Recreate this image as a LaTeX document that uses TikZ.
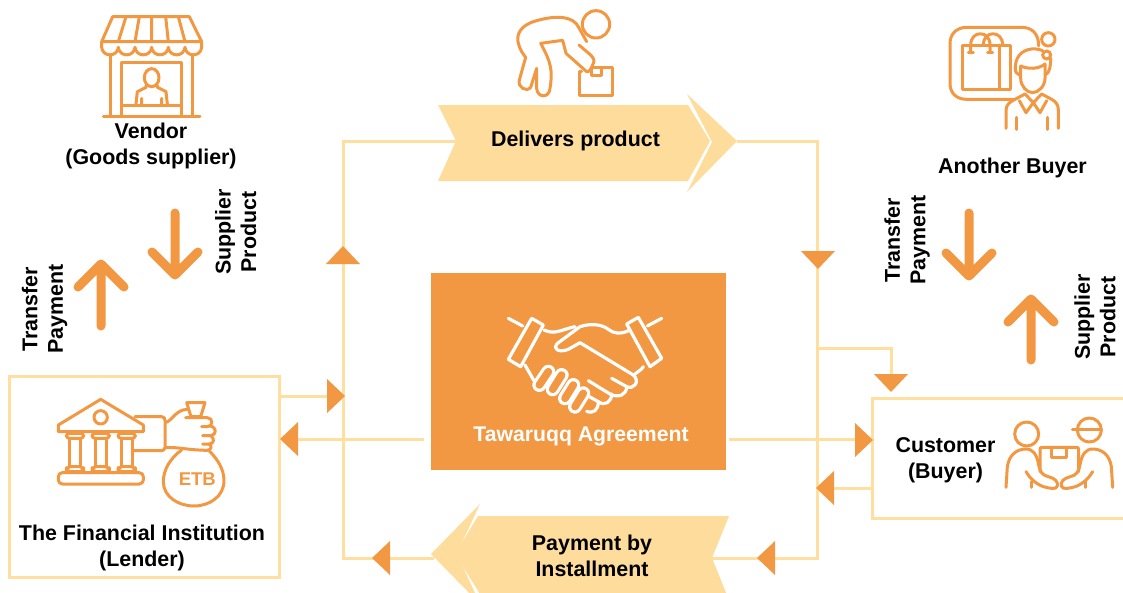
\documentclass[tikz,border=0pt]{standalone}
\usepackage{fontspec}
\setmainfont{Liberation Sans}
\definecolor{lightor}{HTML}{FFDF9F}
\definecolor{midor}{HTML}{FEDD9C}
\definecolor{mainor}{HTML}{F39842}
\tikzset{
  conn/.style={draw=lightor,line width=3pt,line join=miter},
  lbl/.style={font=\bfseries\fontsize{21.4}{25.5}\selectfont,text=black,align=center,inner sep=0pt},
  rlbl/.style={lbl,rotate=90},
  bigarrow/.style={draw=mainor,line width=9pt,line cap=round,line join=round},
  ico/.style={draw=mainor,line width=3pt,line cap=round,line join=round,fill=none},
  wico/.style={draw=white,line width=3.2pt,line cap=round,line join=round,fill=none},
  fingerout/.style={draw=white,line width=14pt,line cap=round},
  fingerin/.style={draw=mainor,line width=7.6pt,line cap=round},
  chev/.style={fill=midor,draw=none},
  zoomed/.style={x=0.33333pt,y=-0.33333pt},
}
\newcommand{\tri}[3]{\fill[mainor,shift={(#1pt,-#2pt)},rotate=#3] (18pt,0pt) -- (0pt,17pt) -- (0pt,-17pt) -- cycle;}
\begin{document}
\begin{tikzpicture}[x=1pt,y=-1pt]
\useasboundingbox (0,0) rectangle (1123,592);
\fill[white] (0,0) rectangle (1123,592);

% boxes
\node[draw=lightor,line width=3pt,minimum width=270pt,minimum height=201pt,inner sep=0pt,outer sep=0pt] (lender) at (144.5,476.5) {};
\node[fill=mainor,minimum width=295pt,minimum height=197pt,inner sep=0pt] (deal) at (578.5,371.5) {};
\coordinate (custTL) at (872.5,398);
\coordinate (custBL) at (872.5,518);
\draw[conn] (1123,398) -- (custTL) -- (custBL) -- (1123,518);

% coordinates of the connector network
\coordinate (delNotch) at (456,141);
\coordinate (delTip) at (737,141);
\coordinate (payNotch) at (712,558);
\coordinate (payTip) at (434,558);
\coordinate (leftT) at (343,141);
\coordinate (leftB) at (343,558);
\coordinate (rightT) at (817,141);
\coordinate (rightB) at (817,558);
\coordinate (rightJ) at (817,348);
\coordinate (custTop) at (891,348);
\coordinate (custTopEnd) at (891,378);

\draw[conn] (delNotch) -- (leftT) -- (leftB) -- (payTip);
\draw[conn] (delTip) -- (rightT) -- (rightB) -- (payNotch);
\draw[conn] (rightJ) -- (custTop) -- (custTopEnd);
\coordinate (a1) at (lender.east |- 0,396); \coordinate (a2) at (343,396);
\draw[conn] (a1) -- (a2);
\coordinate (a3) at (290,439); \coordinate (a4) at (424,439);
\draw[conn] (a3) -- (a4);
\coordinate (a5) at (729,439); \coordinate (a6) at (custTL |- 0,439);
\draw[conn] (a5) -- (a6);
\coordinate (a7) at (825,488); \coordinate (a8) at (custTL |- 0,488);
\draw[conn] (a7) -- (a8);

% chevrons
\fill[chev] (438,105) -- (688,105) -- (710,141) -- (688,181) -- (438,181) -- (456,141) -- cycle;
\fill[chev] (687,94) -- (737,141) -- (687,192) -- (712,142) -- cycle;
\fill[chev] (729,516) -- (478,516) -- (455,554) -- (480,594) -- (480,600) -- (729,600) -- (712,558) -- cycle;
\fill[chev] (480,504) -- (431,554) -- (480,604) -- (458,556) -- (457,553) -- cycle;

% triangles
\tri{343}{264}{90}
\tri{818}{251}{-90}
\tri{327}{396}{0}
\tri{298}{439}{180}
\tri{855}{440}{0}
\tri{834}{488}{180}
\tri{891}{374}{-90}
\tri{390}{558}{180}
\tri{775}{558}{180}

% big arrows
\draw[bigarrow] (175,213) -- (175,275) (152,252) -- (175,275) -- (198,252);
\draw[bigarrow] (101,326) -- (101,264) (78,287) -- (101,264) -- (124,287);
\draw[bigarrow] (969,213) -- (969,276) (946,253) -- (969,276) -- (992,253);
\draw[bigarrow] (1031,360) -- (1031,299) (1008,322) -- (1031,299) -- (1054,322);

% labels
\node[lbl] (vendor) at (151,146) {Vendor\\(Goods supplier)};
\node[lbl] (another) at (1012.5,168) {Another Buyer};
\node[lbl] (fin) at (142,548) {The Financial Institution\\(Lender)};
\node[lbl] (cust) at (945.5,460) {Customer\\(Buyer)};
\node[lbl] (delivers) at (575.5,141) {Delivers product};
\node[lbl] (payment) at (592,556) {Payment by\\Installment};
\node[lbl,text=white,font=\bfseries\fontsize{21.2}{25}\selectfont] (dealtxt) at (581,436) {Tawaruqq Agreement};
\node[rlbl] (sp1) at (235.7,232) {Supplier\\Product};
\node[rlbl] (tp1) at (44.7,309) {Transfer\\Payment};
\node[rlbl] (tp2) at (907,240) {Transfer\\Payment};
\node[rlbl] (sp2) at (1095,317) {Supplier\\Product};

% vendor icon
\begin{scope}[shift={(0pt,0pt)},zoomed]
\draw[ico] (338,50) -- (568,50) -- (605,125) -- (305,125) -- cycle;
\draw[ico] (378,50) -- (355,125) (418,50) -- (405,125) (455,50) -- (455,125) (497,50) -- (505,125) (535,50) -- (555,125);
\draw[ico] (305,125) -- (305,142) .. controls (308,172) and (352,172) .. (355,142)
  .. controls (358,172) and (402,172) .. (405,142)
  .. controls (408,172) and (452,172) .. (455,142)
  .. controls (458,172) and (502,172) .. (505,142)
  .. controls (508,172) and (552,172) .. (555,142)
  .. controls (558,172) and (602,172) .. (605,142) -- (605,125);
\draw[ico] (332,168) -- (332,346) (578,168) -- (578,346) (310,348) -- (600,348);
\draw[ico] (365,346) -- (365,187) -- (543,187) -- (543,346) (365,315) -- (543,315);
\draw[ico] (455,233) ellipse [x radius=22, y radius=27];
\draw[ico] (438,256) -- (438,262) -- (412,275) -- (408,312) (472,256) -- (472,262) -- (498,275) -- (502,312) (425,295) -- (425,312) (485,295) -- (485,312);
\end{scope}

% worker icon
\begin{scope}[shift={(430pt,0pt)},zoomed]
\draw[ico] (498,73) circle [radius=41];
\draw[ico] (470,125) -- (446,82) .. controls (430,48) and (380,45) .. (320,62)
  .. controls (270,75) and (258,105) .. (265,130) .. controls (270,150) and (278,160) .. (287,172)
  -- (268,240) .. controls (262,262) and (290,278) .. (302,262) -- (320,205)
  -- (320,265) .. controls (322,295) and (358,295) .. (360,265)
  .. controls (368,215) and (365,190) .. (332,130) -- (398,121) -- (408,160) -- (470,215)
  .. controls (478,218) and (484,205) .. (490,190) .. controls (495,180) and (490,175) .. (482,165) -- (447,135);
\draw[ico] (455,215) -- (448,215) -- (448,285) -- (548,285) -- (548,202) -- (485,202);
\draw[ico] (485,205) -- (485,225) -- (513,225) -- (513,202);
\end{scope}

% another buyer icon
\begin{scope}[shift={(930pt,-10pt)},zoomed]
\draw[ico] (326,108) .. controls (326,70) and (305,52) .. (275,52) -- (110,52) .. controls (80,52) and (60,72) .. (60,100)
  -- (60,220) .. controls (60,250) and (80,268) .. (110,268) -- (250,268);
\draw[ico] (98,105) rectangle (242,237) (207,105) -- (207,237);
\draw[ico] (122,125) -- (122,105) .. controls (122,60) and (180,60) .. (180,105) -- (180,125);
\draw[ico] (160,105) .. controls (160,60) and (218,60) .. (218,105) -- (218,105);
\draw[ico] (115,127) -- (130,127) (173,127) -- (188,127);
\draw[ico] (355,88) circle [radius=20];
\draw[ico] (268,195) .. controls (250,190) and (255,160) .. (262,145) .. controls (275,118) and (310,110) .. (338,122);
\draw[ico] (362,145) .. controls (362,165) and (360,190) .. (345,195);
\draw[ico] (272,197) -- (272,168) .. controls (295,178) and (325,178) .. (345,162) -- (345,205) .. controls (345,228) and (325,248) .. (308,248) .. controls (290,248) and (272,228) .. (272,205) -- (272,197);
\draw[fill=white,draw=mainor,line width=3pt] (350,135) circle [radius=12];
\draw[ico] (228,355) -- (228,300) .. controls (228,285) and (240,275) .. (255,268) -- (285,252) -- (310,278) -- (335,252) -- (365,268) .. controls (378,275) and (385,285) .. (385,300) -- (385,355);
\draw[ico] (268,272) -- (288,308) -- (310,278) -- (330,308) -- (350,272);
\draw[ico] (260,322) -- (260,358) (352,322) -- (352,358);
\end{scope}

% bank icon
\begin{scope}[shift={(0pt,-370pt)},zoomed]
\draw[ico] (175,185) -- (175,165) -- (302,88) -- (430,165) -- (430,185) -- cycle;
\draw[ico] (302,142) circle [radius=20];
\foreach \c in {225,302,380}{
  \draw[ico,rounded corners=3] (\c-26,190) rectangle (\c+26,205);
  \draw[ico] (\c-17,205) -- (\c-17,290) (\c+17,205) -- (\c+17,290);
  \draw[ico,rounded corners=4] (\c-26,290) rectangle (\c+26,305);
}
\draw[ico,rounded corners=4] (175,308) rectangle (430,342);
\draw[ico] (405,140) -- (485,140) .. controls (492,140) and (495,145) .. (495,152) -- (495,232) .. controls (495,238) and (490,242) .. (485,242) -- (402,242);
\draw[ico] (498,157) .. controls (520,150) and (525,120) .. (562,118);
\draw[ico] (560,98) -- (615,98) -- (602,140) -- (573,140) -- cycle;
\draw[ico] (557,143) -- (622,143) .. controls (640,143) and (640,170) .. (622,170) -- (605,170);
\draw[ico] (630,168) .. controls (652,172) and (650,195) .. (632,197) -- (608,197);
\draw[ico] (632,197) .. controls (645,205) and (642,222) .. (628,222) -- (608,222);
\draw[ico] (628,222) .. controls (638,230) and (632,240) .. (622,241);
\draw[ico] (498,233) .. controls (530,230) and (560,240) .. (622,241);
\draw[ico] (545,240) .. controls (510,265) and (490,300) .. (490,335) .. controls (490,380) and (535,408) .. (582,408) .. controls (630,408) and (672,378) .. (672,332) .. controls (672,295) and (650,265) .. (628,243);
\node[text=mainor,font=\bfseries\fontsize{18.5}{19}\selectfont,inner sep=0pt] (etb) at (592,328) {ETB};
\end{scope}

% customer icon
\begin{scope}[shift={(810pt,-340pt)},zoomed]
\draw[ico] (650,282) circle [radius=36];
\draw[ico] (838,270) circle [radius=36];
\draw[ico] (787,267) -- (874,267);
\draw[ico] (588,442) -- (592,380) .. controls (597,345) and (620,327) .. (648,327) .. controls (670,327) and (680,345) .. (685,370) .. controls (690,395) and (695,405) .. (715,410) .. controls (735,415) and (745,425) .. (742,438) .. controls (738,450) and (720,445) .. (700,440) .. controls (675,430) and (660,415) .. (648,395);
\draw[ico] (908,442) -- (904,380) .. controls (899,345) and (876,327) .. (848,327) .. controls (826,327) and (816,345) .. (811,370) .. controls (806,395) and (801,405) .. (781,410) .. controls (761,415) and (751,425) .. (754,438) .. controls (758,450) and (776,445) .. (796,440) .. controls (821,430) and (836,415) .. (848,395);
\draw[ico] (690,395) -- (690,328) .. controls (690,324) and (692,322) .. (696,322) -- (800,322) .. controls (804,322) and (806,324) .. (806,328) -- (806,395);
\draw[ico] (725,322) -- (725,352) -- (768,352) -- (768,322);
\draw[ico] (665,425) -- (665,442) (825,425) -- (825,442);
\end{scope}

% handshake icon
\begin{scope}[shift={(430pt,-270pt)},zoomed]
\draw[wico] (305,145) -- (340,165) -- (272,290) -- (235,268) -- cycle;
\draw[wico] (625,142) -- (590,162) -- (660,290) -- (695,265) -- cycle;
\draw[wico] (235,145) -- (278,168) (695,145) -- (652,168);
\draw[wico] (342,180) .. controls (375,195) and (390,180) .. (435,170);
\draw[wico] (600,180) .. controls (570,195) and (550,190) .. (535,178) .. controls (515,162) and (480,160) .. (450,170) -- (380,222) .. controls (368,235) and (385,250) .. (415,238) -- (450,218) -- (610,315) .. controls (632,335) and (610,360) .. (590,350) -- (545,325);
\draw[wico] (612,315) .. controls (622,305) and (635,300) .. (640,290);
\draw[wico] (590,350) .. controls (590,375) and (565,385) .. (540,372) -- (475,332);
\draw[wico] (545,372) .. controls (545,395) and (525,410) .. (505,395) -- (478,380);
\draw[wico] (505,395) .. controls (505,420) and (490,432) .. (470,424);
\draw[wico] (285,285) -- (312,332);
\draw[fingerout] (435,410) -- (460,370);
\draw[fingerin] (435,410) -- (460,370);
\draw[fingerout] (405,385) -- (430,345);
\draw[fingerin] (405,385) -- (430,345);
\draw[fingerout] (368,358) -- (395,315);
\draw[fingerin] (368,358) -- (395,315);
\draw[fingerout] (328,345) -- (355,305);
\draw[fingerin] (328,345) -- (355,305);
\end{scope}
\end{tikzpicture}
\end{document}
